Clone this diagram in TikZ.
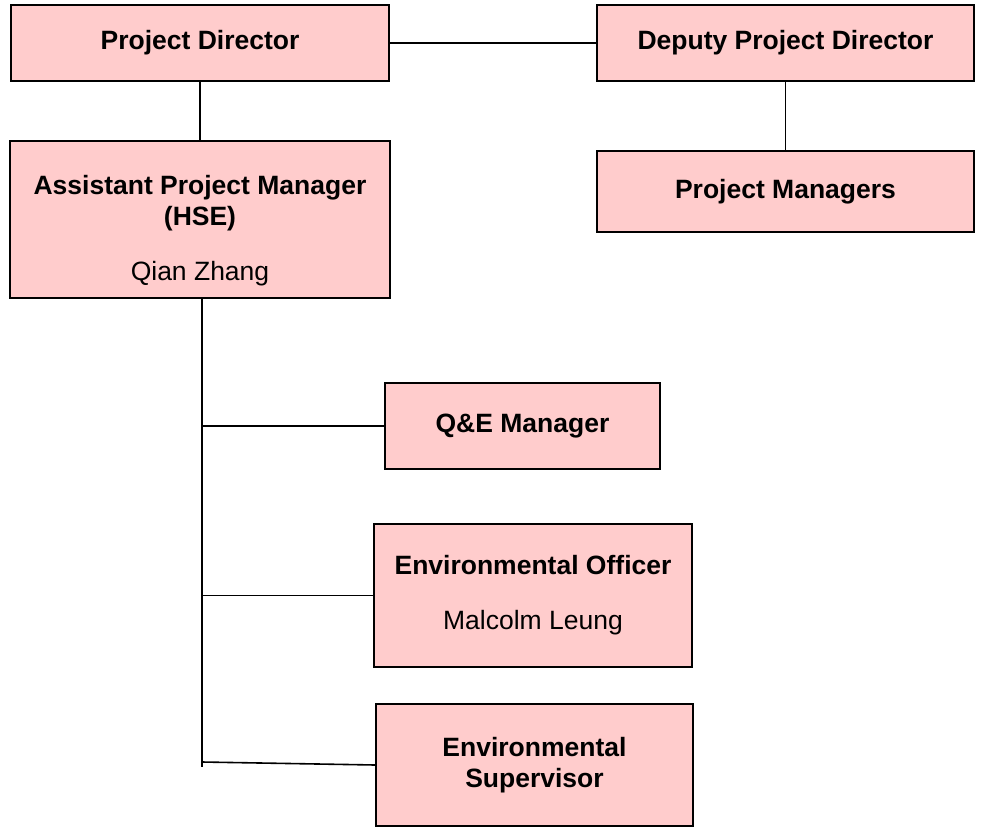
\documentclass[tikz,border=0pt]{standalone}
\usepackage{fontspec}
\setmainfont{Liberation Sans}
\usetikzlibrary{positioning}
\usetikzlibrary{shapes}
\definecolor{rolepink}{HTML}{FFCCCC}
\tikzset{
        orgnode/.style={align=center,inner sep=0pt},
        % Role boxes
        node_role/.style={orgnode, rectangle, black, draw=black, fill=rolepink, line width=1.6pt},
        % Reporting lines
        report/.style={line width=1.6pt, black}
}
\begin{document}
\begin{tikzpicture}[
            x=1pt, y=-1pt,
            font=\fontsize{26.5}{31}\selectfont\bfseries
        ]
            \useasboundingbox (0,0) rectangle (983,833);
            \node[node_role, minimum width=378pt, minimum height=76pt] (pd) at (200,43) {Project Director};
            \node[node_role, minimum width=377pt, minimum height=76pt] (dpd) at (785.5,43) {Deputy Project Director};
            \node[node_role, minimum width=377pt, minimum height=81pt] (pm) at (785.5,191.5) {Project Managers};
            \node[node_role, minimum width=380pt, minimum height=157pt,
                label={[orgnode, yshift=-11pt]center:{Assistant Project Manager\\(HSE)\\[24pt]{\mdseries Qian Zhang}}}]
                (apm) at (200,219.5) {};
            \node[node_role, minimum width=275pt, minimum height=86pt] (qe) at (522.5,426) {Q\&E Manager};
            \node[node_role, minimum width=318pt, minimum height=143pt] (eo) at (533,595.5)
                {Environmental Officer\\[24pt]{\mdseries Malcolm Leung}};
            \node[node_role, minimum width=317pt, minimum height=122pt] (es) at (534.5,765)
                {Environmental\\Supervisor};
            \coordinate (trunk) at (202,767);
            \coordinate (es_branch) at (202,762);
            \draw[report] (pd) -- (dpd);
            \draw[report] (pd) -- (apm);
            \draw[report] (dpd) -- (pm);
            \draw[report] (apm.south -| trunk) -- (trunk);
            \draw[report] (qe.west -| trunk) -- (qe);
            \draw[report] (eo.west -| trunk) -- (eo);
            \draw[report] (es_branch) -- (es.west);
        \end{tikzpicture}
\end{document}
